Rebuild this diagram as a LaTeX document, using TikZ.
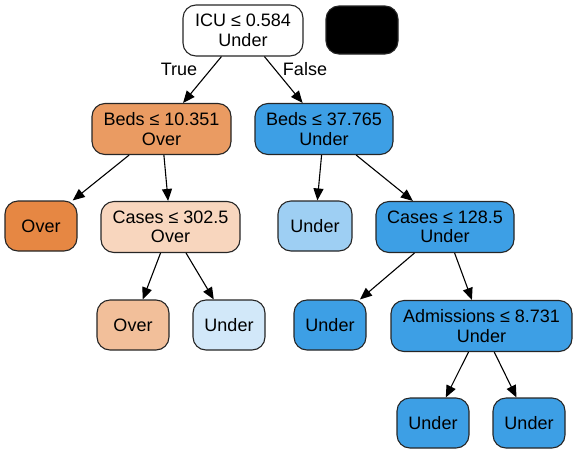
\documentclass[tikz,border=0pt]{standalone}
\usepackage{fontspec}
\setmainfont{Liberation Sans}
\usetikzlibrary{arrows.meta}
\definecolor{cwhite}{HTML}{FFFFFF}
\definecolor{orDark}{HTML}{E68743}
\definecolor{orMid}{HTML}{EA9B62}
\definecolor{orLight}{HTML}{F2BF9A}
\definecolor{orPale}{HTML}{F8D6BE}
\definecolor{blFull}{HTML}{3D9FE5}
\definecolor{blLight}{HTML}{9ECFF3}
\definecolor{blPale}{HTML}{D2E8F9}
\tikzset{
  tnode/.style={draw=black!85, line width=1.1pt, rounded corners=13pt, align=center,
    font=\fontsize{18}{19.5}\selectfont, inner sep=0pt, minimum height=51pt},
  leaf/.style={tnode, minimum width=72pt, minimum height=50pt},
  edge/.style={line width=1.1pt, -{Triangle[length=12pt,width=10pt]}},
  elabel/.style={font=\fontsize{18}{20}\selectfont}
}
\begin{document}
\begin{tikzpicture}[x=1pt,y=1pt]
\useasboundingbox (0,0) rectangle (577,-453);
\node[tnode, fill=cwhite, minimum width=120pt] (root) at (243,-30.5) {ICU ≤ 0.584\\Under};
\node[tnode, fill=black, minimum width=72pt, minimum height=48pt] (legend) at (362,-30) {};
\node[tnode, fill=orMid, minimum width=139pt] (beds1) at (161.5,-129) {Beds ≤ 10.351\\Over};
\node[tnode, fill=blFull, minimum width=138pt] (beds2) at (324,-129) {Beds ≤ 37.765\\Under};
\node[leaf, fill=orDark] (over1) at (41,-226) {Over};
\node[tnode, fill=orPale, minimum width=139pt] (cases1) at (170.5,-227) {Cases ≤ 302.5\\Over};
\node[leaf, fill=blLight, minimum width=74pt] (under1) at (315,-226) {Under};
\node[tnode, fill=blFull, minimum width=138pt] (cases2) at (445,-227) {Cases ≤ 128.5\\Under};
\node[leaf, fill=orLight] (over2) at (133,-325) {Over};
\node[leaf, fill=blPale] (under2) at (229,-325) {Under};
\node[leaf, fill=blFull] (under3) at (330,-325) {Under};
\node[tnode, fill=blFull, minimum width=181pt] (adm) at (481.5,-326) {Admissions ≤ 8.731\\Under};
\node[leaf, fill=blFull] (under4) at (433,-423) {Under};
\node[leaf, fill=blFull] (under5) at (529,-423) {Under};
\draw[edge] (root) -- (beds1);
\draw[edge] (root) -- (beds2);
\node[elabel] (ltrue) at (179,-69) {True};
\node[elabel] (lfalse) at (305,-69) {False};
\draw[edge] (beds1) -- (over1);
\draw[edge] (beds1) -- (cases1);
\draw[edge] (beds2) -- (under1);
\draw[edge] (beds2) -- (cases2);
\draw[edge] (cases1) -- (over2);
\draw[edge] (cases1) -- (under2);
\draw[edge] (cases2) -- (under3);
\draw[edge] (cases2) -- (adm);
\draw[edge] (adm) -- (under4);
\draw[edge] (adm) -- (under5);
\end{tikzpicture}
\end{document}
